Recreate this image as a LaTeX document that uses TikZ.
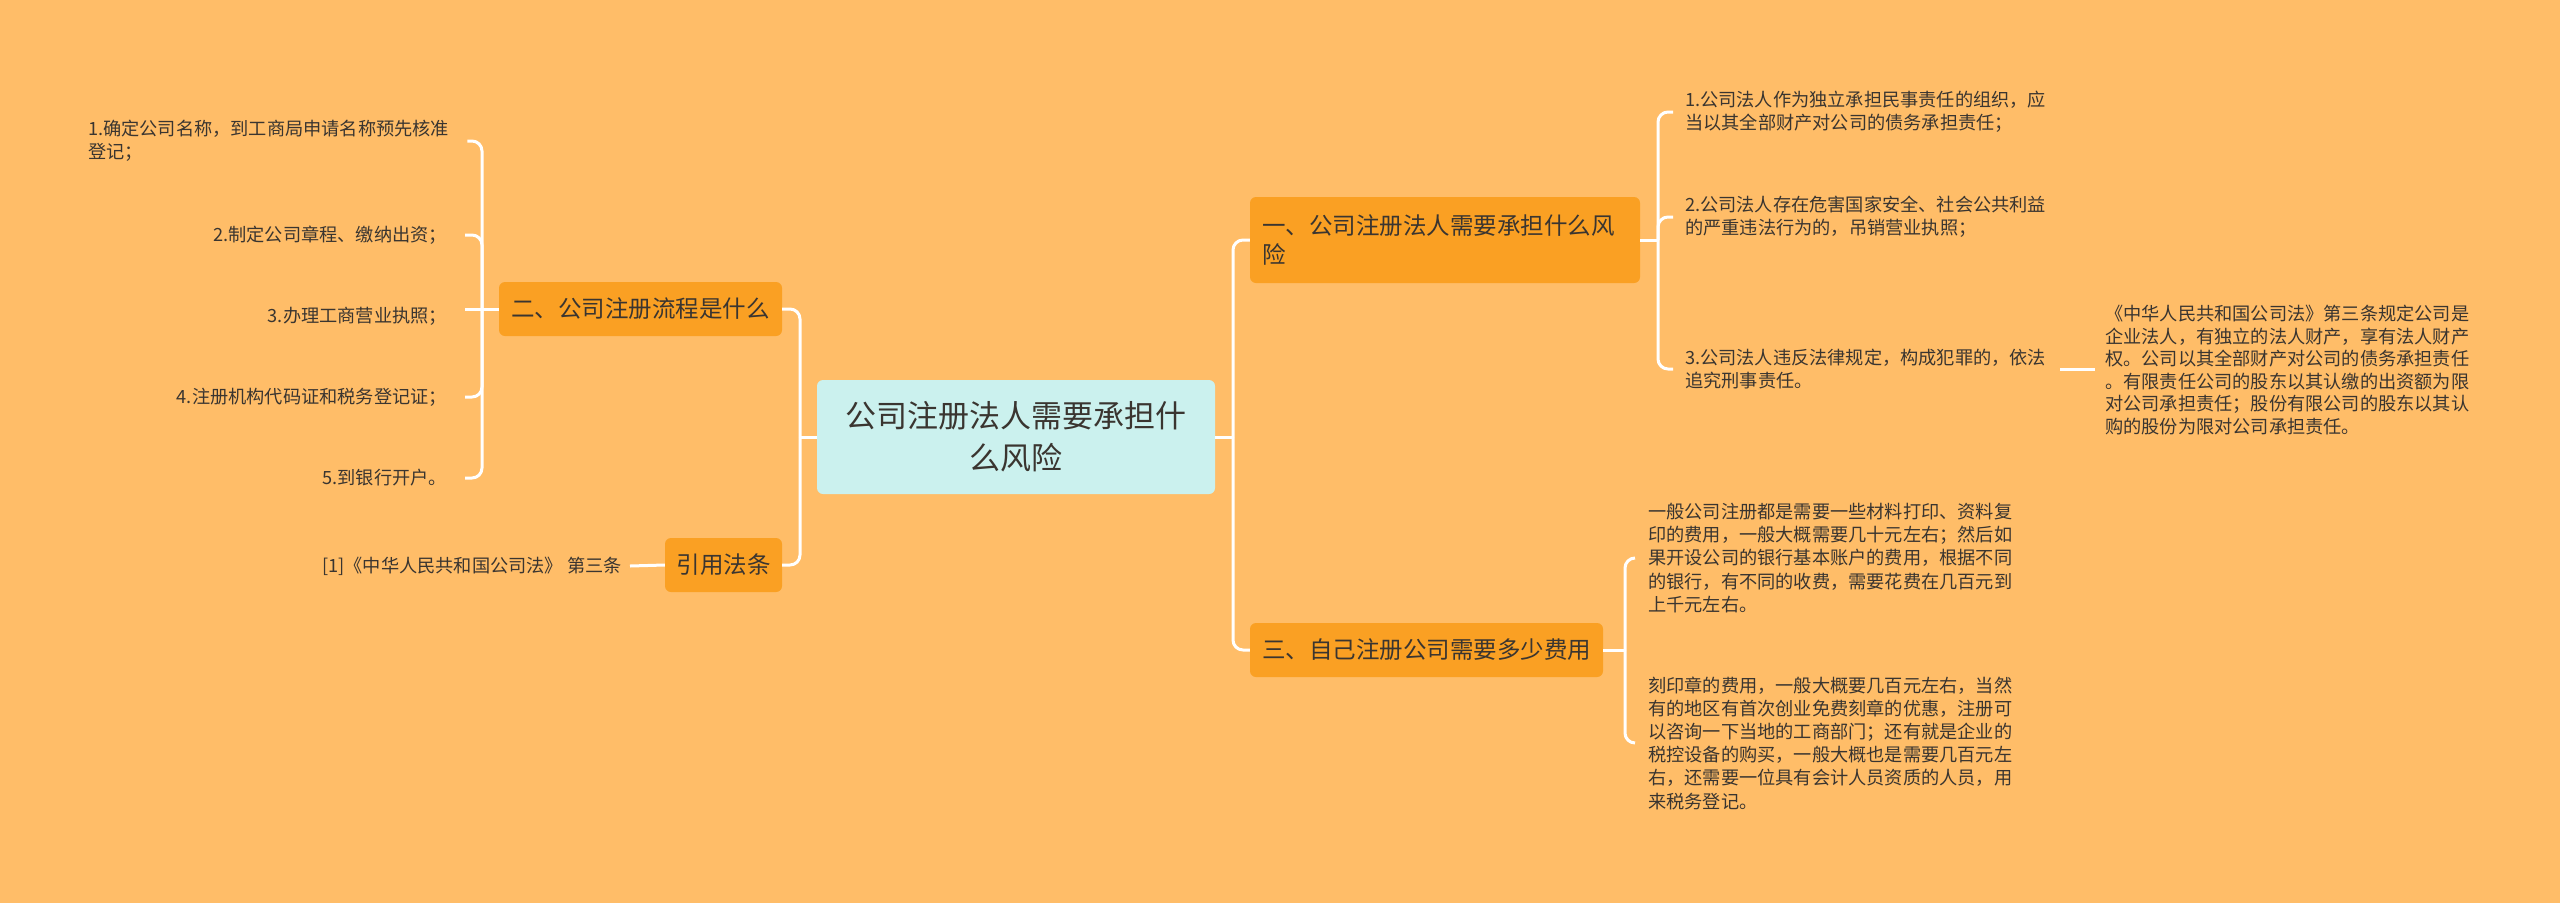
\documentclass[tikz,border=0pt]{standalone}
\usepackage{fontspec}
\setmainfont{Noto Sans CJK SC}
\definecolor{bg}{HTML}{FFBD68}
\definecolor{branchfill}{HTML}{FAA023}
\definecolor{centerfill}{HTML}{CBF1EE}
\definecolor{txt}{HTML}{3A3530}
\tikzset{
  conn/.style={draw=white, line width=3pt, rounded corners=10pt},
  branch/.style={fill=branchfill, rounded corners=6pt, inner sep=0pt, text=txt,
    font=\fontsize{23.5}{29}\selectfont},
  leaf/.style={inner sep=0pt, text=txt, font=\fontsize{18.2}{23.2}\selectfont},
}
\begin{document}
\begin{tikzpicture}[x=1pt, y=-1pt]
\useasboundingbox (0,0) rectangle (2560,903);
\fill[bg] (0,0) rectangle (2560,903);

% center
\node[fill=centerfill, rounded corners=6pt, inner sep=0pt, text=txt,
  minimum width=398pt, minimum height=114pt, align=center,
  font=\fontsize{31}{42}\selectfont] (c) at (1016,437)
  {公司注册法人需要承担什\\么风险};

% branches
\node[branch, minimum width=283pt, minimum height=54pt] (b2) at (640.5,309) {二、公司注册流程是什么};
\node[branch, minimum width=117pt, minimum height=54pt] (b4) at (723.5,565) {引用法条};
\node[branch, minimum width=390pt, minimum height=86pt, text width=366pt, align=left] (b1) at (1445,240)
  {一、公司注册法人需要承担什么风\\险};
\node[branch, minimum width=353pt, minimum height=54pt] (b3) at (1426.5,650) {三、自己注册公司需要多少费用};

% left leaves
\node[leaf, anchor=west, align=left] (l21) at (88,141) {1.确定公司名称，到工商局申请名称预先核准\\登记；};
\node[leaf, anchor=east] (l22) at (447,235) {2.制定公司章程、缴纳出资；};
\node[leaf, anchor=east] (l23) at (447,316) {3.办理工商营业执照；};
\node[leaf, anchor=east] (l24) at (447,397) {4.注册机构代码证和税务登记证；};
\node[leaf, anchor=east] (l25) at (447,478) {5.到银行开户。};
\node[leaf, anchor=east] (l41) at (622,566) {[1]《中华人民共和国公司法》 第三条};

% right leaves
\node[leaf, anchor=west, align=left] (l11) at (1685,112) {1.公司法人作为独立承担民事责任的组织，应\\当以其全部财产对公司的债务承担责任；};
\node[leaf, anchor=west, align=left] (l12) at (1685,217) {2.公司法人存在危害国家安全、社会公共利益\\的严重违法行为的，吊销营业执照；};
\node[leaf, anchor=west, align=left] (l13) at (1685,369) {3.公司法人违反法律规定，构成犯罪的，依法\\追究刑事责任。};
\node[leaf, anchor=west, align=left, font=\fontsize{18.2}{22.5}\selectfont] (law) at (2105,370)
  {《中华人民共和国公司法》第三条规定公司是\\企业法人，有独立的法人财产，享有法人财产\\权。公司以其全部财产对公司的债务承担责任\\。有限责任公司的股东以其认缴的出资额为限\\对公司承担责任；股份有限公司的股东以其认\\购的股份为限对公司承担责任。};
\node[leaf, anchor=west, align=left] (l31) at (1648,558)
  {一般公司注册都是需要一些材料打印、资料复\\印的费用，一般大概需要几十元左右；然后如\\果开设公司的银行基本账户的费用，根据不同\\的银行，有不同的收费，需要花费在几百元到\\上千元左右。};
\node[leaf, anchor=west, align=left] (l32) at (1648,743)
  {刻印章的费用，一般大概要几百元左右，当然\\有的地区有首次创业免费刻章的优惠，注册可\\以咨询一下当地的工商部门；还有就是企业的\\税控设备的购买，一般大概也是需要几百元左\\右，还需要一位具有会计人员资质的人员，用\\来税务登记。};

% junctions
\coordinate (jL) at (800,437);
\coordinate (jR) at (1233,437);
\coordinate (j2) at (482,309);
\coordinate (j1) at (1658,240);
\coordinate (j3) at (1625,650);

% center connectors
\draw[conn] (c.west) -- (jL);
\draw[conn] (b2.east) -| (jL);
\draw[conn] (b4.east) -| (jL);
\draw[conn] (c.east) -- (jR);
\draw[conn] (b1.west) -| (jR);
\draw[conn] (b3.west) -| (jR);

% left group
\draw[conn] (b2.west) -- (j2);
\draw[conn] (j2) |- ([xshift=18pt]l21.east);
\draw[conn] (j2) |- ([xshift=18pt]l22.east);
\draw[conn] (j2) -- ([xshift=18pt]l23.east |- j2);
\draw[conn] (j2) |- ([xshift=18pt]l24.east);
\draw[conn] (j2) |- ([xshift=18pt]l25.east);
\draw[conn] (b4.west) -- ([xshift=8pt]l41.east);

% right group 1
\draw[conn] (b1.east) -- (j1);
\draw[conn] (j1) |- ([xshift=-12pt]l11.west);
\draw[conn] (j1) |- ([xshift=-12pt]l12.west);
\draw[conn] (j1) |- ([xshift=-12pt]l13.west);
\draw[conn] ([xshift=14pt]l13.east) -- ([xshift=-10pt]law.west |- l13.east);

% right group 3
\draw[conn] (b3.east) -- (j3);
\draw[conn] (j3) |- ([xshift=-13pt]l31.west);
\draw[conn] (j3) |- ([xshift=-13pt]l32.west);
\end{tikzpicture}
\end{document}
